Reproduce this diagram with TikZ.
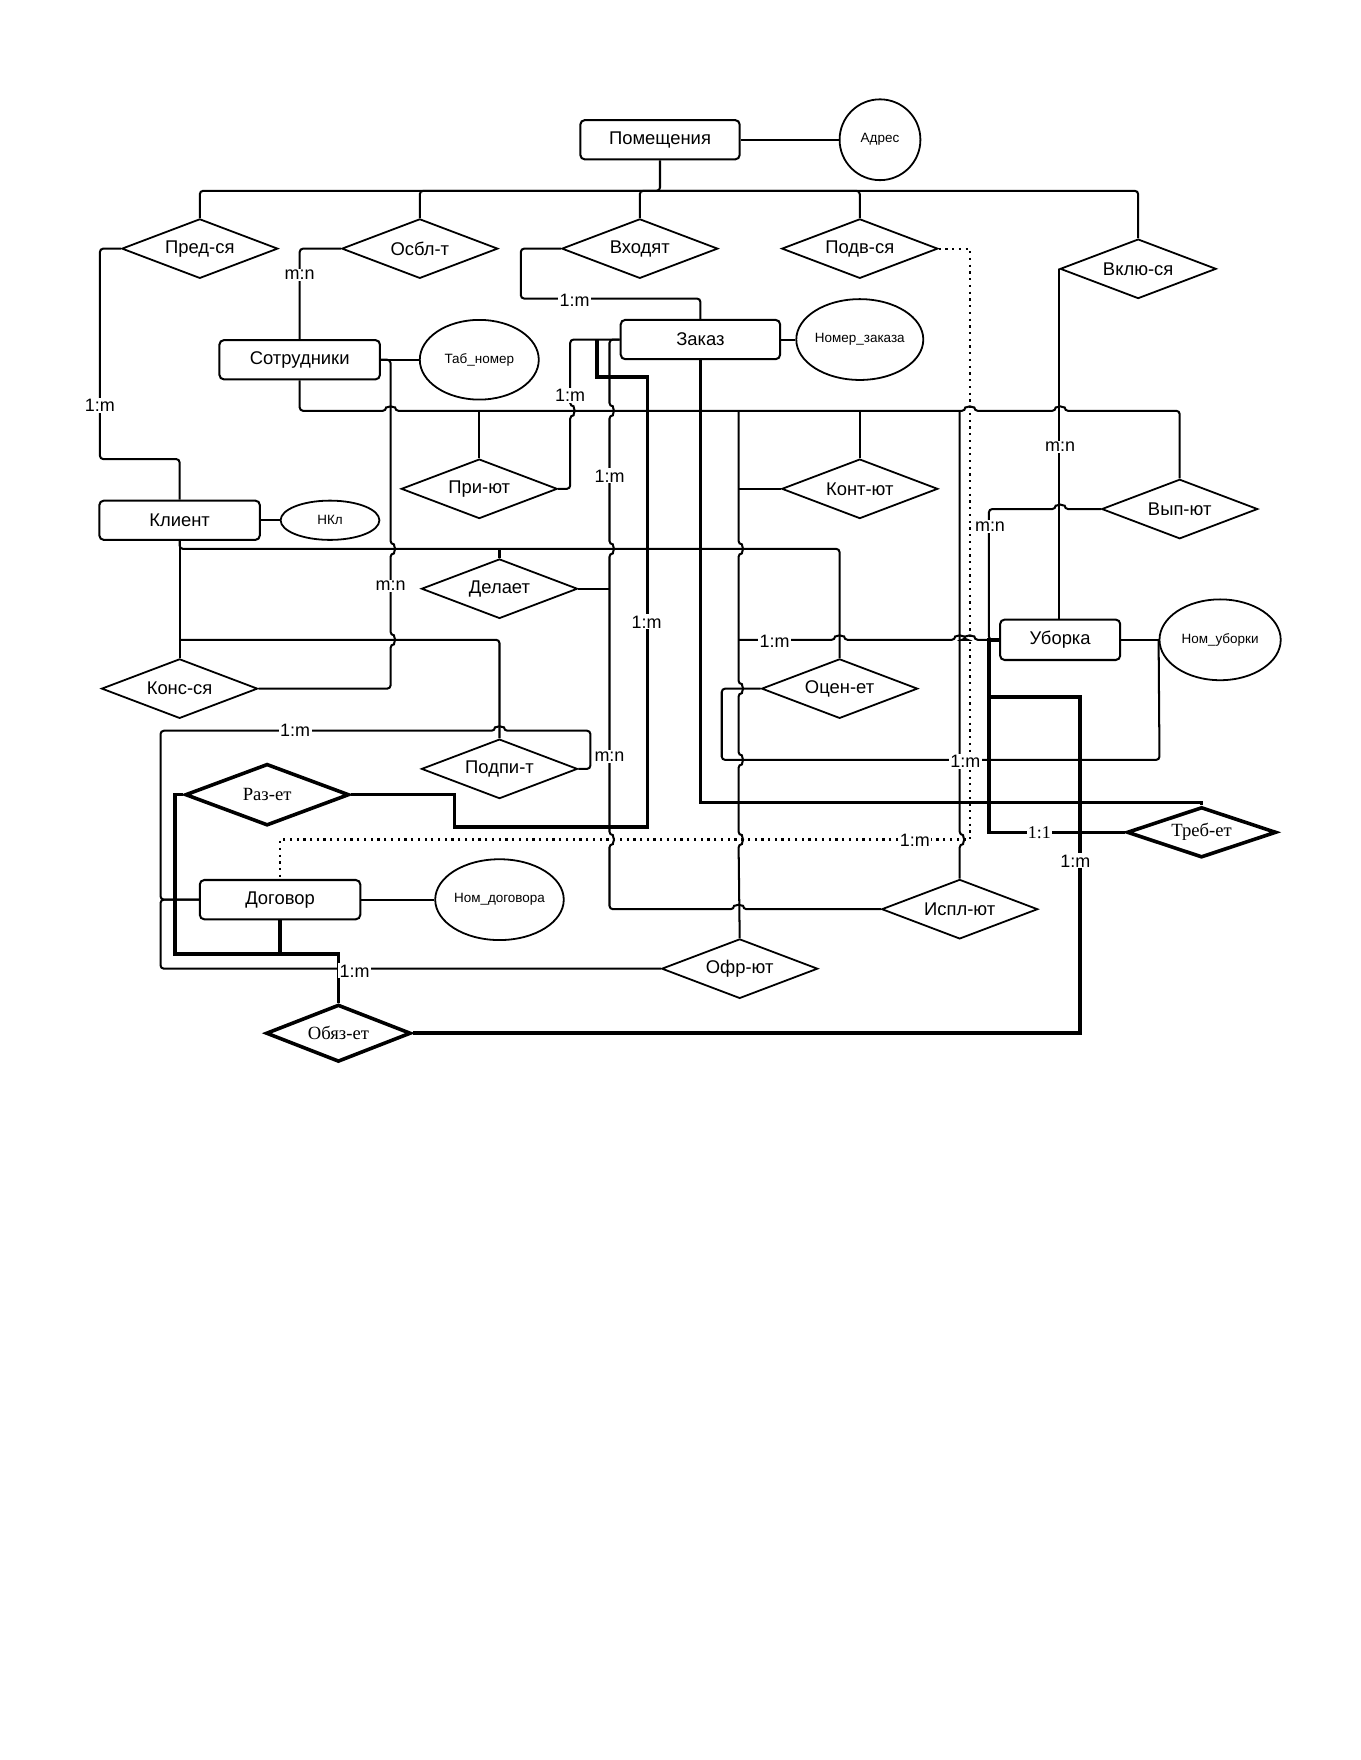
\documentclass[tikz,border=0pt]{standalone}
\usepackage{fontspec}
\setmainfont{Liberation Sans}
\newfontfamily\serifRU{Liberation Serif}
\usetikzlibrary{shapes.geometric}
% jumps: horizontal left-to-right bump up; vertical downward / upward bump right
\newcommand\hj[2]{-- ({#1-4},#2) arc[start angle=180,end angle=0,radius=2pt]}
\newcommand\vjd[2]{-- (#1,{#2-4}) arc[start angle=90,end angle=-90,radius=2pt]}
\newcommand\vju[2]{-- (#1,{#2+4}) arc[start angle=-90,end angle=90,radius=2pt]}
\begin{document}
\begin{tikzpicture}[x=0.5pt,y=-0.5pt,
  ent/.style={draw, rounded corners=2pt, minimum width=71.5pt, minimum height=17.5pt, inner sep=0pt, line width=0.9pt, font=\fontsize{8.2}{10}\selectfont},
  attr/.style={draw, ellipse, inner sep=0pt, line width=0.8pt, font=\fontsize{6}{7}\selectfont},
  rel/.style={draw, diamond, aspect=2.6, inner sep=0pt, minimum width=69.5pt, minimum height=26.5pt, line width=0.8pt, font=\fontsize{8.2}{10}\selectfont},
  relb/.style={rel, line width=1.6pt, font=\serifRU\fontsize{8.3}{10}\selectfont},
  conn/.style={line width=0.9pt, rounded corners=1.5pt},
  thk/.style={line width=1.6pt},
  dotline/.style={line width=1pt, dotted},
  lbl/.style={fill=white, inner sep=0.6pt, font=\fontsize{8}{9}\selectfont},
  lbls/.style={lbl, font=\serifRU\fontsize{8}{9}\selectfont}
]
\fill[white] (0,0) rectangle (1212,1568);
\useasboundingbox (0,0) rectangle (1212,1568);

% entities
\node[ent, minimum width=71pt] (Pom) at (588,124.5) {Помещения};
\node[ent] (Sotr) at (267,320.5) {Сотрудники};
\node[ent, minimum width=71pt] (Zak) at (624,302.5) {Заказ};
\node[ent] (Klient) at (160,463.5) {Клиент};
\node[ent, minimum width=53.5pt, minimum height=18pt] (Ubor) at (944.5,570) {Уборка};
\node[ent] (Dog) at (249.5,801.5) {Договор};

% attributes
\node[attr, minimum width=36pt, minimum height=36pt] (Adres) at (784,124.5) {Адрес};
\node[attr, minimum width=53pt, minimum height=35.5pt] (Tab) at (427,320.5) {Таб\_номер};
\node[attr, minimum width=53pt, minimum height=36pt] (Nomz) at (766,302.5) {Номер\_заказа};
\node[attr, minimum width=44pt, minimum height=17.5pt] (NKl) at (294,463.5) {НКл};
\node[attr, minimum width=54pt, minimum height=36pt] (Nomu) at (1087,570) {Ном\_уборки};
\node[attr, minimum width=53pt, minimum height=36pt] (Nomd) at (445,801.5) {Ном\_договора};

% relationships
\node[rel] (Pred) at (178,221.5) {Пред-ся};
\node[rel] (Osbl) at (374,221.5) {Осбл-т};
\node[rel] (Vkhod) at (570,221.5) {Входят};
\node[rel] (Podv) at (766,221.5) {Подв-ся};
\node[rel] (Vkl) at (1014,239.5) {Вклю-ся};
\node[rel] (Pri) at (427,435.5) {При-ют};
\node[rel] (Kont) at (766,435.5) {Конт-ют};
\node[rel] (Vyp) at (1051,453.5) {Вып-ют};
\node[rel] (Del) at (445,524.5) {Делает};
\node[rel] (Kons) at (160,613.5) {Конс-ся};
\node[rel] (Ocen) at (748,613.5) {Оцен-ет};
\node[rel] (Podp) at (445,685) {Подпи-т};
\node[rel] (Ispl) at (855,810) {Испл-ют};
\node[rel] (Ofr) at (659,863) {Офр-ют};
\node[relb, minimum width=73pt, minimum height=27.5pt] (Raz) at (238,708) {Раз-ет};
\node[relb, minimum width=66.5pt, minimum height=22.5pt] (Treb) at (1070.5,741.5) {Треб-ет};
\node[relb, minimum width=64.5pt, minimum height=25.5pt] (Obyz) at (301.5,920.5) {Обяз-ет};

% Помещения bus
\coordinate (pb) at (588,170);
\draw[conn] (Pom.south) -- (pb) -| (Pred.north);
\draw[conn] (pb) -| (Osbl.north);
\draw[conn] (pb) -| (Vkhod.north);
\draw[conn] (pb) -| (Podv.north);
\draw[conn] (pb) -| (Vkl.north);

% attribute links
\draw[conn] (Pom.east) -- (Adres.west);
\draw[conn] (Sotr.east) -- (Tab.west);
\draw[conn] (Zak.east) -- (Nomz.west);
\draw[conn] (Klient.east) -- (NKl.west);
\draw[conn] (Ubor.east) -- (Nomu.west);
\draw[conn] (Dog.east) -- (Nomd.west);

% upper links
\draw[conn] (Pred.west) -- (89,221.5) -- (89,409) -- (160,409) -- (Klient.north);
\draw[conn] (Osbl.west) -| (Sotr.north);
\draw[conn] (Vkhod.west) -- (464,221.5) -- (464,266) -- (624,266) -- (Zak.north);
\draw[dotline] (Podv.east) -- (864,221.5) -- (864,748) -- (249.5,748) -- (Dog.north);

% Сотрудники -> Конс-ся
\draw[conn] (Sotr.east) -- (348,320.5) \vjd{348}{489} \vjd{348}{570} -- (348,613.5) -- (Kons.east);

% Сотрудники bus y=366
\draw[conn] (Sotr.south) -- (267,366) \hj{348}{366} \hj{864}{366} \hj{944.5}{366} -- (1051,366) -- (Vyp.north);
\draw[conn] (427,366) -- (Pri.north);
\draw[conn] (766,366) -- (Kont.north);
\draw[conn] (658,366) \vjd{658}{489} \vjd{658}{613.5} \vjd{658}{677} \vjd{658}{748} -- (Ofr.north);
\draw[conn] (Kont.west) -- (658,435.5);
\draw[conn] (658,570) \hj{748}{570} \hj{855}{570} \hj{864}{570} -- (Ubor.west);
\draw[conn] (855,366) \vjd{855}{748} -- (Ispl.north);

% Заказ links
\draw[conn] (Pri.east) -- (508,435.5) \vju{508}{366} -- (508,302.5) -- (Zak.west);
\draw[conn] (Zak.west) -- (543,302.5) \vjd{543}{366} \vjd{543}{489} \vjd{543}{748} -- (543,810) \hj{658}{810} -- (Ispl.west);
\draw[conn] (Del.east) -- (543,524.5);

% Клиент links
\draw[conn] (Klient.south) -- (Kons.north);
\draw[conn] (Klient.south) |- (748,489) -- (Ocen.north);
\draw[conn] (Del.north) -- (445,489);
\draw[conn] (160,570) -- (445,570) -- (Podp.north);

% Оцен-ет
\draw[conn] (Ocen.west) -- (643,613.5) -- (643,677) -- (1033,677) -- (Nomu.west);

% Договор links
\draw[conn] (Dog.west) -- (143,801.5) -- (143,651) \hj{445}{651} -- (526,651) -- (526,685) -- (Podp.east);
\draw[conn] (Dog.west) -- (143,801.5) -- (143,863) -- (Ofr.west);

% Уборка links
\draw[conn] (Vkl.west) -- (Vkl.west |- Ubor.north);
\draw[conn] (Ubor.west) -- (881,570) -- (881,453.5) \hj{944.5}{453.5} -- (Vyp.west);

% thick links
\draw[thk] (Treb.west) -- (881,741.5) -- (881,570) -- (Ubor.west);
\draw[thk] (Obyz.east) -- (962,920.5) -- (962,621) -- (881,621) -- (881,570);
\draw[thk] (Zak.south) -- (624,715) -- (1070.5,715) -- (Treb.north);
\draw[thk] (Raz.east) -- (405,708) -- (405,737) -- (577,737) -- (577,336) -- (532,336) -- (532,302.5);
\draw[thk] (Raz.west) -- (156,708) -- (156,850) -- (301.5,850) -- (Obyz.north);
\draw[thk] (Dog.south) -- (249.5,850);

% cardinality labels
\node[lbl] (l1) at (89,361) {1:m};
\node[lbl] (l2) at (267,245) {m:n};
\node[lbl] (l3) at (512,268) {1:m};
\node[lbl] (l4) at (508,352) {1:m};
\node[lbl] (l5) at (543,424) {1:m};
\node[lbl] (l6) at (348,522) {m:n};
\node[lbl] (l7) at (576,554) {1:m};
\node[lbl] (l8) at (690,571) {1:m};
\node[lbl] (l9) at (944.5,398) {m:n};
\node[lbl] (l10) at (882,469) {m:n};
\node[lbl] (l11) at (263,651) {1:m};
\node[lbl] (l12) at (543,674) {m:n};
\node[lbl] (l13) at (860,678) {1:m};
\node[lbl] (l14) at (815,749) {1:m};
\node[lbls] (l15) at (926,741.5) {1:1};
\node[lbl] (l16) at (958,767) {1:m};
\node[lbl] (l17) at (316,865) {1:m};
\end{tikzpicture}
\end{document}
